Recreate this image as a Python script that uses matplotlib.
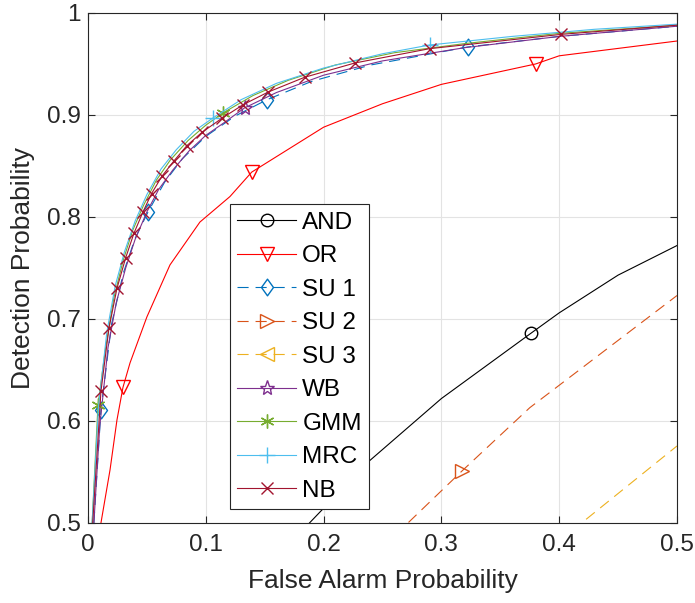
import numpy as np
import matplotlib.pyplot as plt
from matplotlib.path import Path

plt.rcParams['font.family'] = ['Liberation Sans', 'DejaVu Sans']
plt.rcParams['lines.scale_dashes'] = False

# --- ROC points (false alarm, detection) ---
and_pf = [0.17, 0.188, 0.237, 0.30, 0.376, 0.40, 0.45, 0.50]
and_pd = [0.478, 0.50, 0.559, 0.622, 0.686, 0.706, 0.743, 0.772]

or_pf = [0.009, 0.011, 0.0187, 0.0246, 0.0297, 0.0357, 0.050, 0.0696, 0.095, 0.1205,
         0.139, 0.20, 0.25, 0.30, 0.38, 0.40, 0.50]
or_pd = [0.48, 0.50, 0.552, 0.601, 0.633, 0.657, 0.702, 0.753, 0.795, 0.820,
         0.844, 0.888, 0.911, 0.930, 0.950, 0.958, 0.9725]

su1_pf = [0.005, 0.011, 0.02, 0.03, 0.04, 0.051, 0.065, 0.08, 0.1, 0.125,
          0.152, 0.19, 0.24, 0.3226, 0.4, 0.5]
su1_pd = [0.50, 0.611, 0.695, 0.745, 0.779, 0.805, 0.834, 0.857, 0.879, 0.899,
          0.915, 0.933, 0.949, 0.9667, 0.977, 0.987]

su2_pf = [0.25, 0.2716, 0.3175, 0.375, 0.40, 0.50]
su2_pd = [0.476, 0.50, 0.551, 0.613, 0.635, 0.723]

su3_pf = [0.40, 0.419, 0.50]
su3_pd = [0.48, 0.50, 0.5755]

wb_pf = [0.005, 0.01, 0.017, 0.024, 0.032, 0.04, 0.05, 0.06, 0.072, 0.086,
         0.1, 0.115, 0.133, 0.16, 0.2, 0.25, 0.32, 0.4, 0.5]
wb_pd = [0.50, 0.595, 0.672, 0.716, 0.750, 0.778, 0.805, 0.827, 0.846, 0.865,
         0.880, 0.892, 0.907, 0.922, 0.939, 0.953, 0.966, 0.977, 0.987]

gmm_pf = [0.0035, 0.0085, 0.015, 0.022, 0.03, 0.038, 0.047, 0.058, 0.07, 0.085,
          0.1, 0.1146, 0.14, 0.17, 0.21, 0.26, 0.32, 0.4, 0.5]
gmm_pd = [0.50, 0.616, 0.672, 0.721, 0.758, 0.787, 0.811, 0.836, 0.856, 0.875,
          0.890, 0.902, 0.919, 0.934, 0.949, 0.961, 0.970, 0.980, 0.988]

mrc_pf = [0.0035, 0.009, 0.016, 0.023, 0.031, 0.04, 0.05, 0.062, 0.075, 0.09,
          0.106, 0.13, 0.16, 0.2, 0.25, 0.29, 0.36, 0.43, 0.5]
mrc_pd = [0.50, 0.615, 0.687, 0.732, 0.766, 0.796, 0.822, 0.847, 0.866, 0.884,
          0.897, 0.915, 0.931, 0.946, 0.960, 0.9686, 0.977, 0.984, 0.989]

nb_pf = [0.004, 0.011, 0.0178, 0.0246, 0.032, 0.039, 0.0467, 0.054, 0.0628, 0.073,
         0.084, 0.0968, 0.114, 0.1316, 0.153, 0.184, 0.2267, 0.290, 0.4015, 0.5]
nb_pd = [0.50, 0.629, 0.691, 0.730, 0.760, 0.784, 0.805, 0.823, 0.840, 0.855,
         0.870, 0.883, 0.897, 0.910, 0.9225, 0.937, 0.951, 0.965, 0.979, 0.988]

# MATLAB style diamond (taller than wide)
diamond = Path([(0, 1), (0.72, 0), (0, -1), (-0.72, 0), (0, 1)],
               [Path.MOVETO, Path.LINETO, Path.LINETO, Path.LINETO, Path.CLOSEPOLY])

fig = plt.figure(figsize=(6.95, 6.03), dpi=100)
ax = fig.add_axes([0.1266, 0.1327, 0.8475, 0.8458])

lw = 0.8
dash = (8, 5)
common = dict(lw=lw, mfc='none')

ax.plot(and_pf, and_pd, color='k', marker='o', ms=9, markevery=[4], label='AND', **common)
ax.plot(or_pf, or_pd, color='r', marker='v', ms=10, markevery=[4, 10, 14], label='OR', **common)
ax.plot(su1_pf, su1_pd, color='#0072BD', ls='--', dashes=dash, marker=diamond, ms=12,
        markevery=[1, 5, 10, 13], label='SU 1', **common)
ax.plot(su2_pf, su2_pd, color='#D95319', ls='--', dashes=dash, marker='>', ms=10,
        markevery=[2], label='SU 2', **common)
ax.plot(su3_pf, su3_pd, color='#EDB120', ls='--', dashes=dash, marker='<', ms=10,
        markevery=[], label='SU 3', **common)
ax.plot(wb_pf, wb_pd, color='#7E2F8E', marker='*', ms=11, markevery=[12], label='WB', **common)
ax.plot(gmm_pf, gmm_pd, color='#77AC30', marker=(6, 2, 0), ms=10, markevery=[1, 11],
        label='GMM', **common)
ax.plot(mrc_pf, mrc_pd, color='#4DBEEE', marker='+', ms=11, markevery=[10, 15],
        label='MRC', **common)
ax.plot(nb_pf, nb_pd, color='#A2142F', marker='x', ms=8, markevery=list(range(1, 19)),
        label='NB', **common)

ax.set_xlim(0, 0.5)
ax.set_ylim(0.5, 1)
ax.set_xticks([0, 0.1, 0.2, 0.3, 0.4, 0.5])
ax.set_xticklabels(['0', '0.1', '0.2', '0.3', '0.4', '0.5'])
ax.set_yticks([0.5, 0.6, 0.7, 0.8, 0.9, 1])
ax.set_yticklabels(['0.5', '0.6', '0.7', '0.8', '0.9', '1'])
ax.grid(True, color='#e3e3e3', lw=0.8)
ax.set_axisbelow(True)
ax.tick_params(direction='in', top=True, right=True, length=5, width=0.8,
               labelsize=17.5, colors='#262626')
ax.tick_params(axis='x', pad=8)
ax.tick_params(axis='y', pad=5)
for s in ax.spines.values():
    s.set_color('#262626')
    s.set_linewidth(0.8)

ax.set_xlabel('False Alarm Probability', fontsize=19, color='#262626', labelpad=9)
ax.set_ylabel('Detection Probability', fontsize=19, color='#262626', labelpad=9)

leg = ax.legend(loc='upper left', bbox_to_anchor=(0.241, 0.625), borderaxespad=0,
                fontsize=17.5, handlelength=2.43, handletextpad=0.25, labelspacing=0.475,
                fancybox=False, framealpha=1, edgecolor='#262626', borderpad=0.3)
leg.get_frame().set_linewidth(0.8)

fig.savefig('out.png', dpi=100)
